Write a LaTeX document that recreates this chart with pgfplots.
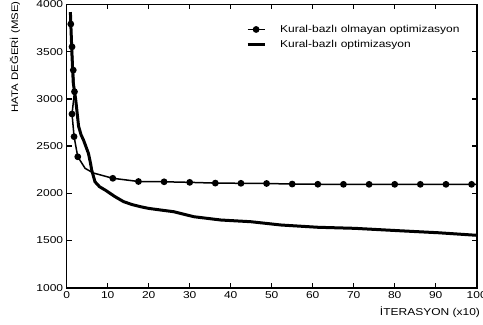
\documentclass[border=0pt]{standalone}
\usepackage{fontspec}
\setmainfont{Liberation Sans}[FakeStretch=1.2]
\usepackage{pgfplots}
\pgfplotsset{compat=1.18}
\usetikzlibrary{calc}
\begin{document}
\begin{tikzpicture}
\begin{axis}[
  name=ax,
  scale only axis, width=410pt, height=283.2pt,
  xmin=0, xmax=100, ymin=1000, ymax=4000,
  xtick={0,10,...,100}, ytick={1000,1500,...,4000},
  tick align=inside, major tick length=5pt,
  xtick pos=both, ytick pos=both,
  axis line style={line width=1.6pt},
  tick style={line width=1.3pt, black},
  tick label style={font=\fontsize{10}{12}\selectfont},
  /pgf/number format/assume math mode=true,
  /pgf/number format/1000 sep={},
  ylabel={HATA DEĞERİ (MSE)},
  ylabel style={at={(axis description cs:-0.126,0.815)}, anchor=center, font=\fontsize{9.5}{11}\selectfont},
  xlabel={İTERASYON (x10)},
  xlabel style={at={(axis description cs:0.886,-0.086)}, anchor=center, font=\fontsize{10}{12}\selectfont},
  legend style={draw=none, fill=none, at={(axis description cs:0.437,0.935)}, anchor=north west,
    inner sep=0pt, row sep=2pt, column sep=12pt, font=\fontsize{10}{12}\selectfont},
  legend cell align=left,
]
\addplot[black, line width=1.5pt, mark=*, mark size=2.6pt,
  mark indices={1,2,3,4,5,6,7,10,11,12,13,14,15,16,17,18,19,20,21,22,23,24},
  legend image post style={mark indices={2}}]
coordinates {
(1.0,3793) (1.3,3552) (1.6,3305) (1.9,3076) (1.3,2840) (1.8,2600) (2.7,2387)
(4.5,2264) (6.5,2215)
(11.25,2159) (17.5,2125) (23.75,2122) (30,2116) (36.25,2108) (42.5,2106)
(48.75,2104) (55,2098) (61.25,2096) (67.5,2095) (73.75,2095) (80,2095)
(86.25,2095) (92.5,2095) (98.75,2095) (100,2095)
};
\addlegendentry{Kural-bazlı olmayan optimizasyon}
\addplot[black, line width=3pt, line join=round]
coordinates {
(0.9,3920) (1.3,3450) (1.6,3170) (2.2,2990) (2.9,2710) (3.5,2620) (4.1,2564)
(5.3,2423) (5.8,2320) (6.1,2246) (6.9,2122) (8,2070) (9.4,2034)
(11.8,1964) (13.9,1911) (16,1880) (18,1858) (20,1840) (22.9,1823) (26.1,1805)
(31,1752) (37.6,1717) (44.9,1699) (52.3,1664) (61.3,1640) (70.2,1629)
(80.9,1604) (90.7,1582) (100,1555)
};
\addlegendentry{Kural-bazlı optimizasyon}
\end{axis}
\pgfresetboundingbox
\path[use as bounding box] ($(ax.south west)+(-66.7pt,-36.3pt)$) rectangle ($(ax.north east)+(6.3pt,4.5pt)$);
\end{tikzpicture}
\end{document}
